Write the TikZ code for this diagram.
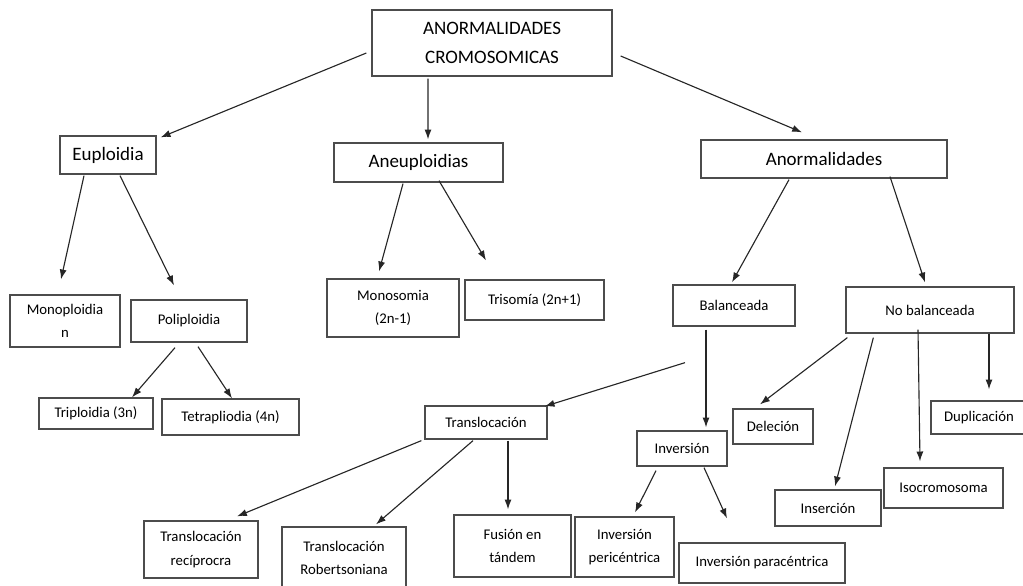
\documentclass[tikz,border=0pt]{standalone}
\usepackage{fontspec}
\setmainfont{Carlito}
\usetikzlibrary{calc,arrows.meta}

\tikzset{
  box/.style={draw=black!70, line width=0.9pt, inner sep=0pt, align=center, text=black},
  big/.style={font=\fontsize{13.5}{21}\selectfont},
  small/.style={font=\fontsize{10.5}{16.5}\selectfont},
  arr/.style={-{Latex[length=7pt,width=5pt]}, line width=0.8pt, draw=black!85}
}

\begin{document}
\begin{tikzpicture}
  [x=0.025cm,y=-0.025cm]
  \useasboundingbox (0,0) rectangle (1023,585);

  % top levels
  \node[box,big,minimum width=6cm,minimum height=1.65cm] (top) at (492,43) {ANORMALIDADES\\CROMOSOMICAS};
  \node[box,big,minimum width=2.4cm,minimum height=0.95cm] (eup) at (108,155) {Euploidia};
  \node[box,big,minimum width=4.225cm,minimum height=0.975cm] (aneu) at (418.5,162.5) {Aneuploidias};
  \node[box,big,minimum width=6.15cm,minimum height=0.95cm] (anorm) at (824,159) {Anormalidades};

  % second level
  \node[box,small,minimum width=2.75cm,minimum height=1.3cm] (mono) at (65,321) {Monoploidia\\n};
  \node[box,small,minimum width=2.9cm,minimum height=1.05cm] (poli) at (189,321) {Poliploidia};
  \node[box,small,minimum width=3.3cm,minimum height=1.45cm] (monos) at (393,308) {Monosomia\\(2n-1)};
  \node[box,small,minimum width=3.475cm,minimum height=1cm] (tris) at (534.5,300) {Trisomía (2n+1)};
  \node[box,small,minimum width=3.05cm,minimum height=1.025cm] (bal) at (734,305.5) {Balanceada};
  \node[box,small,minimum width=4.2cm,minimum height=1.15cm] (nobal) at (930,310) {No balanceada};

  % third level
  \node[box,small,minimum width=2.85cm,minimum height=0.775cm] (tri) at (96,413.5) {Triploidia (3n)};
  \node[box,small,minimum width=3.425cm,minimum height=0.9cm] (tetra) at (230.5,417) {Tetrapliodia (4n)};
  \node[box,small,minimum width=3.05cm,minimum height=0.825cm] (transl) at (486,422.5) {Translocación};
  \node[box,small,minimum width=2.25cm,minimum height=0.875cm] (inv) at (682,448.5) {Inversión};
  \node[box,small,minimum width=2cm,minimum height=0.875cm] (del) at (773,426.5) {Deleción};
  \node[box,small,minimum width=2.4cm,minimum height=0.825cm] (dup) at (979,417.5) {Duplicación};
  \node[box,small,minimum width=2.975cm,minimum height=1cm] (iso) at (943.5,488) {Isocromosoma};
  \node[box,small,minimum width=2.65cm,minimum height=0.9cm] (ins) at (828,508) {Inserción};

  % bottom level
  \node[box,small,minimum width=2.85cm,minimum height=1.425cm] (recip) at (201,549.5) {Translocación\\recíprocra};
  \node[box,small,minimum width=3.1cm,minimum height=1.55cm] (robert) at (344,558) {Translocación\\Robertsoniana};
  \node[box,small,minimum width=2.925cm,minimum height=1.55cm] (fusion) at (512.5,546) {Fusión en\\tándem};
  \node[box,small,minimum width=2.475cm,minimum height=1.5cm] (peri) at (624.5,547) {Inversión\\pericéntrica};
  \node[box,small,minimum width=4.15cm,minimum height=1cm] (para) at (762,563) {Inversión paracéntrica};

  \draw[arr] ($(top.west)+(-5,10)$) -- ($(eup.north east)+(4,2)$);
  \draw[arr] ($(top.south)+(-64,2)$) -- ($(aneu.north)+(9.5,-3)$);
  \draw[arr] ($(top.east)+(8,13)$) -- ($(anorm.north)+(-22,-7)$);
  \draw[arr] ($(eup.south)+(-24,1)$) -- ($(mono.north)+(-4,-15)$);
  \draw[arr] ($(eup.south)+(12,1)$) -- ($(poli.north)+(-15,-14)$);
  \draw[arr] ($(aneu.south)+(-15.5,1)$) -- ($(monos.north)+(-14,-7)$);
  \draw[arr] ($(aneu.south)+(20.5,-2)$) -- ($(tris.north)+(-48.5,-19)$);
  \draw[arr] ($(anorm.south)+(-35,1)$) -- ($(bal.north)+(-2,-2)$);
  \draw[arr] ($(anorm.south)+(66,-2)$) -- ($(nobal.north)+(-5,-4)$);
  \draw[arr] ($(poli.south)+(-14,5)$) -- ($(tri.north)+(36,0)$);
  \draw[arr] ($(poli.south)+(9,4)$) -- ($(tetra.north)+(1.5,0)$);
  \draw[arr] ($(bal.south)+(-49,36)$) -- ($(transl.north east)+(-3,1)$);
  \draw[arr] ($(bal.south)+(-28,3)$) -- ($(inv.north)+(24,-3)$);
  \draw[arr] ($(nobal.south west)+(2,4)$) -- ($(del.north)+(-13,-4)$);
  \draw[arr] ($(nobal.south west)+(28,4)$) -- ($(ins.north)+(7,-3)$);
  \draw[arr] ($(nobal.south)+(-12,-4)$) -- ($(iso.north)+(-23.5,-6)$);
  \draw[arr] ($(nobal.south)+(59,0)$) -- ($(dup.north)+(10,-11)$);
  \draw[arr] ($(transl.south west)+(-3,1)$) -- ($(recip.north)+(36,-4)$);
  \draw[arr] ($(transl.south)+(-13,1)$) -- ($(robert.north)+(32,-2)$);
  \draw[arr] ($(transl.south)+(22,1)$) -- ($(fusion.north)+(-4.5,-5)$);
  \draw[arr] ($(inv.south)+(-26,4)$) -- ($(peri.north)+(10.5,-4)$);
  \draw[arr] ($(inv.south)+(22,1)$) -- ($(para.north)+(-35,-24)$);

\end{tikzpicture}
\end{document}
